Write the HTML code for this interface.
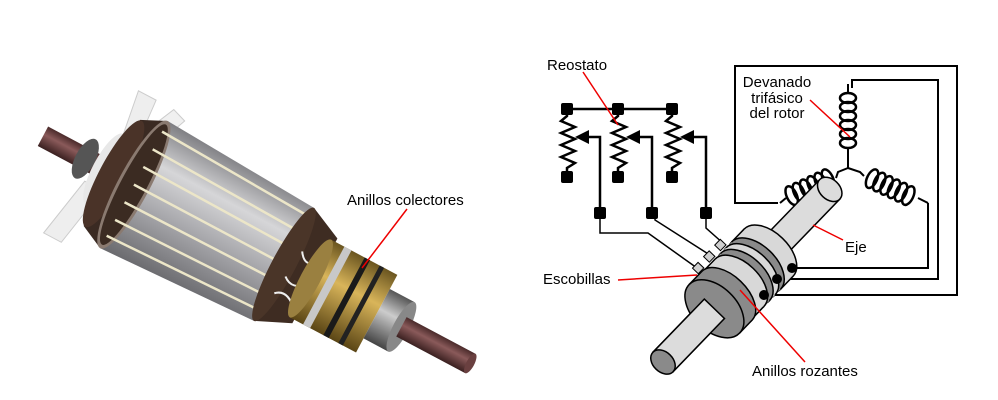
<!DOCTYPE html>
<html><head><meta charset="utf-8"><style>
html,body{margin:0;padding:0;background:#fff;width:998px;height:400px;overflow:hidden;}
svg{display:block;font-family:"Liberation Sans",Arial,sans-serif;}
</style></head><body>
<svg width="998" height="400" viewBox="0 0 998 400" xmlns="http://www.w3.org/2000/svg">
<defs>
<linearGradient id="core" x1="0" y1="0" x2="0" y2="1">
<stop offset="0" stop-color="#7e7e82"/><stop offset="0.3" stop-color="#d6d6d8"/><stop offset="0.6" stop-color="#a8a8ac"/><stop offset="1" stop-color="#6a6a6e"/></linearGradient>
<linearGradient id="gold" x1="0" y1="0" x2="0" y2="1">
<stop offset="0" stop-color="#6a5520"/><stop offset="0.4" stop-color="#d9b55a"/><stop offset="1" stop-color="#5a4515"/></linearGradient>
<linearGradient id="shaft" x1="0" y1="0" x2="0" y2="1">
<stop offset="0" stop-color="#4a2a2a"/><stop offset="0.4" stop-color="#8a5a5a"/><stop offset="1" stop-color="#3a2020"/></linearGradient>
<linearGradient id="steel" x1="0" y1="0" x2="0" y2="1">
<stop offset="0" stop-color="#555"/><stop offset="0.4" stop-color="#ccc"/><stop offset="1" stop-color="#444"/></linearGradient>
</defs>

<!-- Left photo approximation -->
<g transform="translate(50,140) rotate(28)">
  <rect x="-8" y="-11" width="80" height="22" fill="url(#shaft)"/>
  <ellipse cx="40" cy="0" rx="10" ry="22" fill="#555"/>
  <polygon points="55,-85 75,-85 80,-20 65,-20" fill="#eeeeee" stroke="#ccc"/>
  <polygon points="50,20 70,20 58,85 38,85" fill="#eeeeee" stroke="#ccc"/>
  <polygon points="70,-30 90,-30 110,-80 95,-85" fill="#f0f0f0" stroke="#ccc"/>
  <ellipse cx="62" cy="0" rx="12" ry="40" fill="#e8e8e8"/>
  <path d="M70,-60 L95,-72 L95,72 L70,60 Z" fill="#3a2a22"/>
  <ellipse cx="72" cy="0" rx="14" ry="60" fill="#4a3328"/>
  <path d="M95,-72 L265,-64 L265,64 L95,72 Z" fill="url(#core)"/>
  <ellipse cx="95" cy="0" rx="16" ry="72" fill="#8a7a70"/>
  <ellipse cx="95" cy="0" rx="13" ry="68" fill="#3b2b22"/>
  <g stroke="#ece6c8" stroke-width="2.5">
    <line x1="95" y1="-60" x2="265" y2="-54"/><line x1="95" y1="-40" x2="265" y2="-36"/>
    <line x1="95" y1="-20" x2="265" y2="-18"/><line x1="95" y1="0" x2="265" y2="0"/>
    <line x1="95" y1="20" x2="265" y2="18"/><line x1="95" y1="40" x2="265" y2="36"/>
    <line x1="95" y1="58" x2="265" y2="52"/>
  </g>
  <path d="M265,-64 L300,-48 L300,48 L265,64 Z" fill="#3e2c22"/>
  <ellipse cx="265" cy="0" rx="12" ry="64" fill="#4a3528"/>
  <path d="M275,-20 q10,15 20,0 M272,10 q12,10 24,-5 M270,30 q10,-10 25,5" stroke="#eee" stroke-width="2" fill="none"/>
  <rect x="295" y="-44" width="75" height="88" fill="url(#gold)"/>
  <rect x="310" y="-44" width="8" height="88" fill="#c8c8c8"/>
  <rect x="333" y="-44" width="6" height="88" fill="#1a1a1a"/>
  <rect x="350" y="-44" width="5" height="88" fill="#222"/>
  <ellipse cx="295" cy="0" rx="10" ry="44" fill="#9a8040"/>
  <rect x="370" y="-28" width="28" height="56" fill="url(#steel)"/>
  <ellipse cx="398" cy="0" rx="8" ry="28" fill="#888"/>
  <rect x="398" y="-11" width="78" height="22" fill="url(#shaft)"/>
  <ellipse cx="476" cy="0" rx="4" ry="11" fill="#6a4040"/>
</g>
<text x="347" y="205" font-size="15" fill="#000">Anillos colectores</text>
<line x1="407" y1="209" x2="362" y2="268" stroke="#e00" stroke-width="1.5"/>

<!-- Right diagram -->
<g fill="none" stroke="#000" stroke-width="2">
  <polyline points="763,295 957,295 957,66 735,66 735,203 778,203"/>
  <polyline points="777,279 938,279 938,80 852,80 852,88"/>
  <polyline points="792,268 928,268 928,203"/>
  <line x1="848" y1="84" x2="848" y2="92"/>
  <g stroke-width="2.5">
  <ellipse cx="848" cy="98" rx="8" ry="5"/><ellipse cx="848" cy="107" rx="8" ry="5"/>
  <ellipse cx="848" cy="116" rx="8" ry="5"/><ellipse cx="848" cy="125" rx="8" ry="5"/>
  <ellipse cx="848" cy="134" rx="8" ry="5"/><ellipse cx="848" cy="143" rx="8" ry="5"/>
  </g>
  <line x1="848" y1="148" x2="848" y2="168"/>
  <polyline points="848,168 838,172 836,178"/>
  <g transform="translate(808,188) rotate(-25)" stroke-width="2.5">
    <ellipse cx="-18" cy="0" rx="5" ry="10"/><ellipse cx="-10" cy="0" rx="5" ry="10"/>
    <ellipse cx="-2" cy="0" rx="5" ry="10"/><ellipse cx="6" cy="0" rx="5" ry="10"/>
    <ellipse cx="14" cy="0" rx="5" ry="10"/><ellipse cx="22" cy="0" rx="5" ry="10"/>
  </g>
  <polyline points="786,198 780,203"/>
  <polyline points="848,168 860,172 864,176"/>
  <g transform="translate(892,188) rotate(25)" stroke-width="2.5">
    <ellipse cx="-22" cy="0" rx="5" ry="10"/><ellipse cx="-14" cy="0" rx="5" ry="10"/>
    <ellipse cx="-6" cy="0" rx="5" ry="10"/><ellipse cx="2" cy="0" rx="5" ry="10"/>
    <ellipse cx="10" cy="0" rx="5" ry="10"/><ellipse cx="18" cy="0" rx="5" ry="10"/>
  </g>
  <polyline points="918,198 928,203"/>

  <line x1="567" y1="109" x2="672" y2="109" stroke-width="2.5"/>
  <g stroke-width="2.5">
    <polyline points="567,109 567,116 561,121 575,127 561,133 575,139 561,145 575,151 561,157 575,163 567,168 567,177"/>
    <polyline points="588,137 600,137 600,213"/>
    <polyline points="618,109 618,116 612,121 626,127 612,133 626,139 612,145 626,151 612,157 626,163 618,168 618,177"/>
    <polyline points="639,137 652,137 652,213"/>
    <polyline points="672,109 672,116 666,121 680,127 666,133 680,139 666,145 680,151 666,157 680,163 672,168 672,177"/>
    <polyline points="693,137 706,137 706,213"/>
  </g>
  <polyline points="600,213 600,233 648,233 697,268" stroke-width="1.5"/>
  <polyline points="655,213 655,220 713,257" stroke-width="1.5"/>
  <polyline points="706,213 706,228 724,244" stroke-width="1.5"/>
</g>
<g fill="#000">
  <rect x="561" y="103" width="12" height="12" rx="2"/><rect x="612" y="103" width="12" height="12" rx="2"/><rect x="666" y="103" width="12" height="12" rx="2"/>
  <rect x="561" y="171" width="12" height="12" rx="2"/><rect x="612" y="171" width="12" height="12" rx="2"/><rect x="666" y="171" width="12" height="12" rx="2"/>
  <rect x="594" y="207" width="12" height="12" rx="2"/><rect x="646" y="207" width="12" height="12" rx="2"/><rect x="700" y="207" width="12" height="12" rx="2"/>
  <polygon points="575,137 589,130 589,144"/><polygon points="626,137 640,130 640,144"/><polygon points="680,137 694,130 694,144"/>
</g>

<!-- shaft and rings -->
<g transform="translate(663,362) rotate(-46)" stroke="#000" stroke-width="1.5">
  <rect x="0" y="-14" width="240" height="28" fill="#dcdcdc"/>
  <ellipse cx="240" cy="0" rx="10" ry="14" fill="#dcdcdc"/>
  <!-- back light segment 134-152 -->
  <ellipse cx="152" cy="0" rx="20" ry="34" fill="#d8d8d8"/>
  <rect x="134" y="-34" width="18" height="68" fill="#d8d8d8" stroke="none"/>
  <line x1="134" y1="-34" x2="152" y2="-34"/><line x1="134" y1="34" x2="152" y2="34"/>
  <ellipse cx="134" cy="0" rx="20" ry="34" fill="#8a8a8a"/>
  <rect x="126" y="-34" width="8" height="68" fill="#8a8a8a" stroke="none"/>
  <ellipse cx="126" cy="0" rx="20" ry="34" fill="#d8d8d8"/>
  <rect x="118" y="-34" width="8" height="68" fill="#d8d8d8" stroke="none"/>
  <ellipse cx="118" cy="0" rx="20" ry="34" fill="#8a8a8a"/>
  <rect x="110" y="-34" width="8" height="68" fill="#8a8a8a" stroke="none"/>
  <ellipse cx="110" cy="0" rx="20" ry="34" fill="#d8d8d8"/>
  <rect x="92" y="-34" width="18" height="68" fill="#d8d8d8" stroke="none"/>
  <line x1="92" y1="-34" x2="110" y2="-34"/><line x1="92" y1="34" x2="110" y2="34"/>
  <ellipse cx="92" cy="0" rx="20" ry="35" fill="#8a8a8a"/>
  <rect x="74" y="-35" width="18" height="70" fill="#8a8a8a" stroke="none"/>
  <line x1="74" y1="-35" x2="92" y2="-35"/><line x1="74" y1="35" x2="92" y2="35"/>
  <ellipse cx="74" cy="0" rx="22" ry="35" fill="#8a8a8a"/>
  <rect x="0" y="-14" width="74" height="28" fill="#dcdcdc"/>
  <ellipse cx="0" cy="0" rx="10" ry="14" fill="#8a8a8a"/>
  <rect x="120" y="-44" width="8" height="8" fill="#cfcfcf" stroke-width="1"/>
  <rect x="104" y="-44" width="8" height="8" fill="#cfcfcf" stroke-width="1"/>
  <rect x="88" y="-44" width="8" height="8" fill="#cfcfcf" stroke-width="1"/>
</g>
<g fill="#000">
  <circle cx="777" cy="279" r="5"/><circle cx="764" cy="295" r="5"/><circle cx="792" cy="268" r="5"/>
</g>

<g font-size="15" fill="#000">
  <text x="547" y="70">Reostato</text>
  <text x="777" y="87" text-anchor="middle">Devanado</text>
  <text x="777" y="103" text-anchor="middle">trifásico</text>
  <text x="777" y="118" text-anchor="middle">del rotor</text>
  <text x="845" y="252">Eje</text>
  <text x="543" y="284">Escobillas</text>
  <text x="752" y="376">Anillos rozantes</text>
</g>
<g stroke="#e00" stroke-width="1.5">
  <line x1="583" y1="72" x2="618" y2="125"/>
  <line x1="810" y1="100" x2="850" y2="137"/>
  <line x1="813" y1="225" x2="843" y2="240"/>
  <line x1="618" y1="280" x2="697" y2="275"/>
  <line x1="740" y1="290" x2="805" y2="362"/>
</g>
</svg>
</body></html>
